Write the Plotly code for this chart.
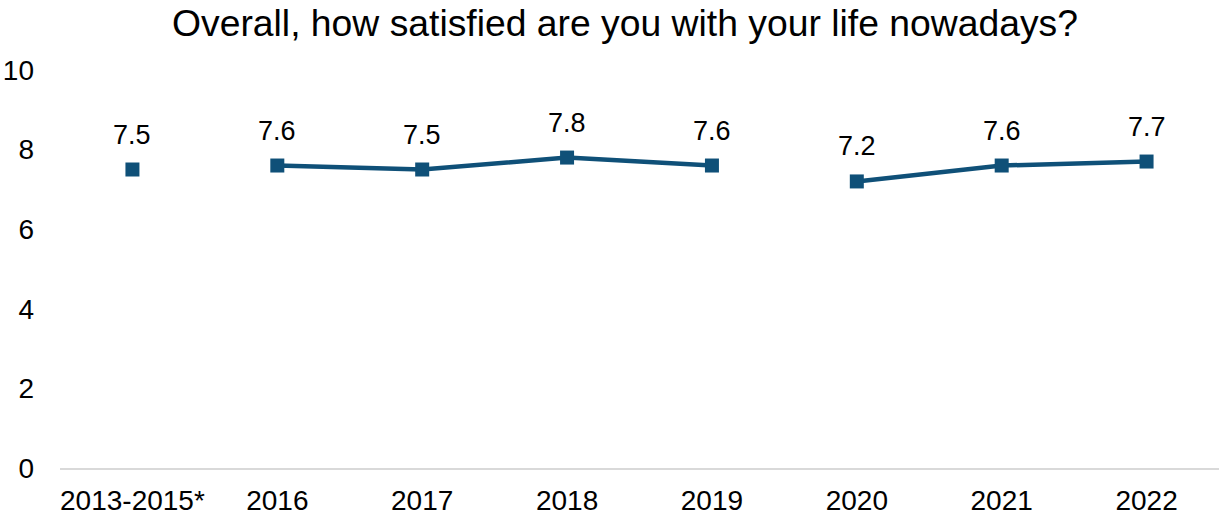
import plotly.graph_objects as go

categories = ["2013-2015*", "2016", "2017", "2018", "2019", "2020", "2021", "2022"]
values = [7.5, 7.6, 7.5, 7.8, 7.6, 7.2, 7.6, 7.7]
# groups of consecutive points joined by a line
segments = [[0], [1, 2, 3, 4], [5, 6, 7]]
title_text = "Overall, how satisfied are you with your life nowadays?"

FONT = "Liberation Sans, Arial, sans-serif"
color = "#0f5078"
fig = go.Figure()
for seg in segments:
    fig.add_trace(go.Scatter(
        x=[categories[i] for i in seg],
        y=[values[i] for i in seg],
        mode="lines+markers",
        line=dict(color=color, width=4.5),
        marker=dict(symbol="square", size=14, color=color),
        showlegend=False,
        hoverinfo="skip",
    ))

for i, v in enumerate(values):
    fig.add_annotation(x=i, y=v, xref="x", yref="y", text=f"{v:.1f}", showarrow=False,
                       yshift=35, font=dict(size=27, color="#000000", family=FONT))

fig.update_layout(
    width=1219, height=518,
    margin=dict(l=60, r=0, t=70, b=50),
    paper_bgcolor="white", plot_bgcolor="white",
    font=dict(family=FONT, color="#000000", size=28),
    title=dict(text=title_text, x=0.5127, xanchor="center", y=0.981, yanchor="top",
               font=dict(size=37.3, color="#000000", family=FONT)),
)
fig.update_xaxes(type="category", categoryorder="array", categoryarray=categories,
                 range=[-0.5, 7.5], showline=True, linecolor="#d9d9d9", linewidth=2,
                 showgrid=False, ticks="", ticklabelstandoff=6, automargin=False,
                 tickfont=dict(size=28))
fig.update_yaxes(range=[0, 10], tickvals=[0, 2, 4, 6, 8, 10], showgrid=False,
                 zeroline=False, showline=False, ticks="", ticklabelstandoff=25,
                 automargin=False, tickfont=dict(size=28))

fig.write_html("out.html", config={"displayModeBar": False},
               post_script="document.body.style.margin='0';")
